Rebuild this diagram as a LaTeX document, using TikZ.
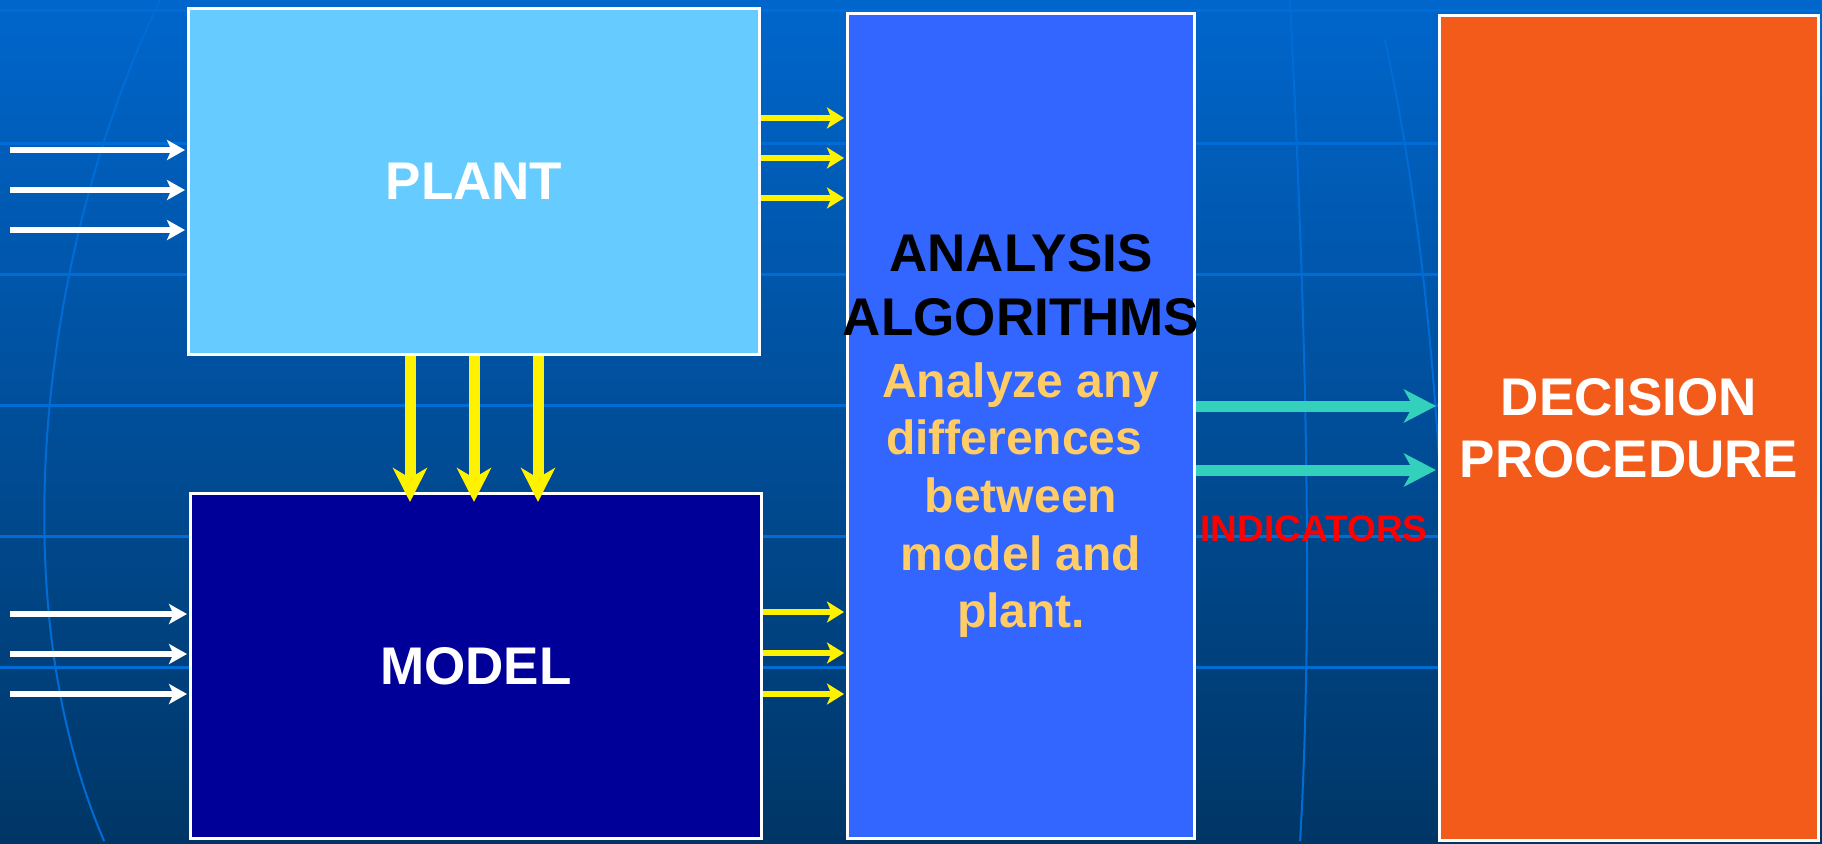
\documentclass[tikz,border=0pt]{standalone}
\usepackage{fontspec}
\setmainfont{Liberation Sans}
\usetikzlibrary{arrows.meta}

\definecolor{bgtop}{RGB}{0,102,204}
\definecolor{bgbottom}{RGB}{0,54,102}
\definecolor{gridblue}{RGB}{0,108,214}
\definecolor{plantblue}{RGB}{102,204,255}
\definecolor{modelblue}{RGB}{0,0,153}
\definecolor{algoblue}{RGB}{51,102,255}
\definecolor{decisionorange}{RGB}{243,91,26}
\definecolor{bodytext}{RGB}{255,204,102}
\definecolor{indicatorteal}{RGB}{51,208,187}

\begin{document}
\begin{tikzpicture}[x=0.5pt,y=-0.5pt,shorten >=1pt,
    block/.style={rectangle,draw=white,line width=1.5pt,inner sep=0pt},
    big label/.style={align=center,font=\fontsize{26.5}{31}\selectfont\bfseries},
    input/.style={draw=white,line width=2.8pt,-{Stealth[length=9pt,width=10pt,inset=2.2pt]}},
    signal/.style={draw=yellow,line width=3pt,-{Stealth[length=8.5pt,width=10.5pt,inset=2.2pt]}},
    feed/.style={draw=yellow,line width=5.5pt,shorten >=-5pt,-{Stealth[length=17pt,width=17pt,inset=5pt]}},
    indicator/.style={draw=indicatorteal,line width=5.5pt,-{Stealth[length=16pt,width=16.5pt,inset=4.5pt]}}]

\useasboundingbox (0,0) rectangle (1822,843);
\shade[top color=bgtop,bottom color=bgbottom] (0,0) rectangle (1822,843);
\foreach \y in {10,143,274,405,536,667}
  \draw[gridblue,line width=1.5pt] (0,\y) -- (1822,\y);
\draw[gridblue,line width=1pt] (160,0) .. controls (40,250) and (0,600) .. (105,843);
\draw[gridblue,line width=1pt] (1290,0) .. controls (1305,300) and (1314,600) .. (1300,843);
\draw[gridblue,line width=1pt] (1385,40) .. controls (1420,200) and (1440,400) .. (1445,600);

\node[block,fill=plantblue,minimum width=285.5pt,minimum height=173pt,text=white,big label] (plant) at (474,181.5) {PLANT};
\node[block,fill=modelblue,minimum width=285.5pt,minimum height=172.5pt,text=white,big label] (model) at (476,666) {MODEL};
\node[block,fill=algoblue,minimum width=173.5pt,minimum height=412.5pt] (analysis) at (1021,426) {};
\node[block,fill=decisionorange,minimum width=189.5pt,minimum height=412.5pt,text=white,big label] (decision) at (1629,428) {DECISION\\PROCEDURE};

\node[big label,font=\fontsize{26.5}{32}\selectfont\bfseries] (algo title) at (1021,285) {ANALYSIS\\ALGORITHMS};
\node[align=center,text=bodytext,font=\fontsize{24}{28.8}\selectfont\bfseries] (algo body) at (1021,500)
  {Analyze any\\differences\hphantom{\ }\\between\\model and\\plant.};
\node[text=red,font=\fontsize{18.5}{22}\selectfont\bfseries] (indicators) at (1314,529) {INDICATORS};

\foreach \y in {150,190,230} {
  \coordinate (plant in) at (10,\y);
  \draw[input] (plant in) -- (plant in -| plant.west);
}
\foreach \y in {614,654,694} {
  \coordinate (model in) at (10,\y);
  \draw[input] (model in) -- (model in -| model.west);
}
\foreach \y in {118,158,198}
  \draw[signal] (plant.east |- 0,\y) -- (analysis.west |- 0,\y);
\foreach \y in {612,653,694}
  \draw[signal] (model.east |- 0,\y) -- (analysis.west |- 0,\y);
\foreach \x in {410,474,538}
  \draw[feed] (\x,0 |- plant.south) -- (\x,0 |- model.north);
\foreach \y in {406,470}
  \draw[indicator] (analysis.east |- 0,\y) -- (decision.west |- 0,\y);
\end{tikzpicture}
\end{document}
